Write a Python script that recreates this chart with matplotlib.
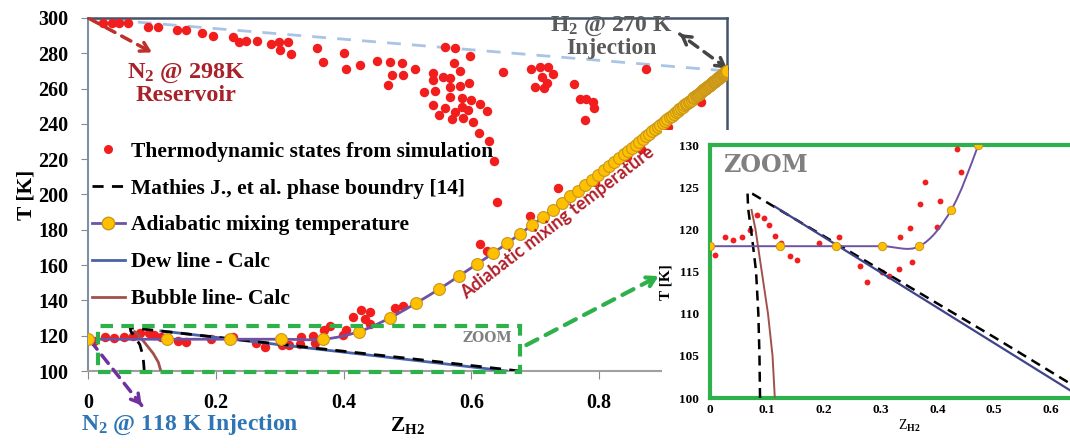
import numpy as np
import matplotlib
matplotlib.use('Agg')
import matplotlib.pyplot as plt
from matplotlib.path import Path
from matplotlib.patches import PathPatch, Rectangle
from matplotlib.lines import Line2D

plt.rcParams['font.family'] = ['Liberation Serif', 'DejaVu Serif']
plt.rcParams['font.weight'] = 'bold'
plt.rcParams['mathtext.fontset'] = 'custom'
plt.rcParams['mathtext.rm'] = 'Liberation Serif:bold'
plt.rcParams['mathtext.it'] = 'Liberation Serif:bold'
plt.rcParams['mathtext.bf'] = 'Liberation Serif:bold'

# --- thermodynamic states from simulation (z_H2, T) ---
sim_z = [0.024, 0.037, 0.049, 0.063, 0.094, 0.110, 0.139, 0.154, 0.178, 0.195,
         0.227, 0.237, 0.248, 0.264, 0.287, 0.299, 0.313, 0.300, 0.317,
         0.359, 0.367, 0.400, 0.403, 0.426, 0.453, 0.473, 0.491, 0.475, 0.493, 0.470, 0.512,
         0.540, 0.540, 0.556, 0.567, 0.559, 0.574, 0.572, 0.582, 0.598, 0.567, 0.582, 0.597,
         0.526, 0.543, 0.567, 0.585, 0.600, 0.613, 0.624, 0.540, 0.559, 0.574, 0.585, 0.595,
         0.550, 0.569, 0.587, 0.603, 0.612, 0.628, 0.636, 0.640,
         0.649, 0.694, 0.707, 0.720, 0.727, 0.710, 0.718, 0.700, 0.714, 0.761, 0.770, 0.780,
         0.790, 0.792, 0.778, 0.873, 0.960, 0.908, 0.866, 0.843, 0.736, 0.692, 0.613, 0.624, 0.793,
         0.009, 0.026, 0.041, 0.057, 0.070, 0.082, 0.095, 0.104, 0.114, 0.124, 0.141, 0.153,
         0.192, 0.227, 0.263, 0.277, 0.303, 0.315, 0.332, 0.334, 0.352, 0.355, 0.369, 0.379,
         0.399, 0.404, 0.434, 0.441, 0.415, 0.428, 0.441, 0.480, 0.493]
sim_T = [297.0, 297.0, 297.0, 297.0, 295.1, 294.7, 293.2, 293.2, 291.7, 289.8,
         289.1, 286.6, 287.0, 287.0, 285.1, 286.2, 286.2, 281.9, 279.6,
         283.2, 274.9, 280.0, 271.1, 273.4, 275.8, 275.3, 274.3, 267.7, 267.7, 262.0, 270.9,
         268.7, 264.9, 266.7, 265.8, 283.7, 282.8, 274.3, 270.2, 278.5, 261.1, 261.5, 263.0,
         257.9, 258.8, 255.1, 254.5, 253.5, 251.3, 247.5, 250.7, 248.8, 246.9, 249.8, 247.9,
         245.0, 242.8, 243.5, 240.9, 234.7, 230.3, 219.2, 195.6,
         269.6, 270.9, 272.4, 272.4, 268.3, 266.7, 263.0, 261.1, 260.5, 262.6, 254.1, 254.1,
         252.2, 248.8, 242.2, 270.9, 252.2, 238.1, 225.6, 221.0, 203.5, 187.8, 171.8, 168.2, 207.3,
         117.0, 119.1, 118.7, 119.1, 119.9, 121.7, 121.3, 120.5, 119.2, 118.4, 116.8, 116.4,
         118.4, 119.1, 115.7, 113.7, 115.0, 114.5, 115.3, 119.1, 120.1, 116.1, 123.0, 125.6,
         120.3, 123.4, 129.5, 126.8, 130.8, 134.6, 133.6, 135.5, 136.8]

# --- adiabatic mixing temperature ---
adi_z = [0.0, 0.1239, 0.2222, 0.3022, 0.3684, 0.4242, 0.4719, 0.5131, 0.5490, 0.5806,
         0.6087, 0.6337, 0.6563, 0.6766, 0.6950, 0.7119, 0.7273, 0.7414, 0.7545, 0.7666,
         0.7778, 0.7882, 0.7979, 0.8070, 0.8155, 0.8235, 0.8311, 0.8381, 0.8448, 0.8512,
         0.8571, 0.8628, 0.8682, 0.8733, 0.8782, 0.8829, 0.8873, 0.8916, 0.8956, 0.8995,
         0.9032, 0.9068, 0.9102, 0.9135, 0.9167, 0.9197, 0.9226, 0.9255, 0.9282, 0.9308,
         0.9333, 0.9358, 0.9381, 0.9404, 0.9426, 0.9448, 0.9469, 0.9489, 0.9508, 0.9527,
         0.9545, 0.9563, 0.9581, 0.9597, 0.9614, 0.9630, 0.9645, 0.9660, 0.9675, 0.9689,
         0.9703, 0.9717, 0.9730, 0.9743, 0.9755, 0.9767, 0.9779, 0.9791, 0.9803, 0.9814,
         0.9825, 0.9835, 0.9846, 0.9856, 0.9866, 0.9876, 0.9885, 0.9894, 0.9904, 0.9912,
         0.9921, 0.9930, 0.9938, 0.9947, 0.9955, 0.9963, 0.9970, 0.9978, 0.9985, 0.9993, 1.0]
adi_T = [118.0, 118.0, 118.0, 118.0, 118.0, 122.3, 130.0, 138.4, 146.3, 153.8,
         160.6, 166.7, 172.5, 177.8, 182.7, 187.0, 191.2, 195.2, 199.0, 202.2,
         205.4, 208.2, 211.0, 213.6, 216.1, 218.4, 220.6, 222.7, 224.6, 226.5,
         228.2, 229.9, 231.4, 232.9, 234.4, 235.7, 237.0, 238.3, 239.4, 240.6,
         241.7, 242.7, 243.7, 244.7, 245.6, 246.5, 247.3, 248.2, 249.0, 249.7,
         250.5, 251.2, 251.9, 252.5, 253.2, 253.8, 254.4, 255.0, 255.6, 256.1,
         256.6, 257.2, 257.7, 258.2, 258.6, 259.1, 259.6, 260.0, 260.4, 260.8,
         261.3, 261.7, 262.1, 262.4, 262.8, 263.1, 263.5, 263.8, 264.2, 264.5,
         264.8, 265.1, 265.4, 265.7, 266.0, 266.3, 266.6, 266.8, 267.1, 267.4,
         267.6, 267.9, 268.1, 268.4, 268.6, 268.8, 269.0, 269.3, 269.5, 269.7, 270.0]

# --- phase boundaries ---
mathies_z = [0.088, 0.087, 0.085, 0.081, 0.074, 0.067, 0.066, 0.075, 0.120, 0.300, 0.500, 0.675]
mathies_T = [100.0, 105.0, 110.0, 115.0, 119.0, 122.5, 124.4, 124.2, 122.4, 115.2, 107.2, 100.0]
dew_z = [0.114, 0.655]
dew_T = [122.7, 100.0]
bubble_z = [0.073, 0.080, 0.091, 0.102, 0.110, 0.114]
bubble_T = [122.3, 120.0, 115.0, 110.0, 105.0, 100.0]

# straight mixing line N2 reservoir -> H2 injection
mix_z = [0.0, 1.0]
mix_T = [300.0, 270.0]

RED = '#f21d1d'
PURPLE = '#6e52a3'
GOLD = '#ffc000'
DEW = '#4a62a8'
BUB = '#a0524a'
GREEN = '#2eb04b'


def smooth_line(axis, xs, ys, **kw):
    # Excel-like smoothed line through the points (Catmull-Rom as Bezier)
    pts = np.column_stack([xs, ys])
    P = np.vstack([pts[0], pts, pts[-1]])
    verts = [pts[0]]
    codes = [Path.MOVETO]
    for i in range(1, len(P) - 2):
        p0, p1, p2, p3 = P[i - 1], P[i], P[i + 1], P[i + 2]
        verts += [p1 + (p2 - p0) / 6, p2 - (p3 - p1) / 6, p2]
        codes += [Path.CURVE4] * 3
    axis.add_patch(PathPatch(Path(verts, codes), fill=False, **kw))


def dashed_arrow(axis, start, end, color, lw=2.5, both=False):
    axis.annotate('', xy=end, xytext=start, annotation_clip=False,
                  arrowprops=dict(arrowstyle='-', color=color, lw=lw, ls=(0, (3, 2.2)),
                                  shrinkA=0, shrinkB=0))
    s = np.array(start)
    e = np.array(end)
    heads = [(s, e)] + ([(e, s)] if both else [])
    for a, b in heads:
        axis.annotate('', xy=b, xytext=b - 0.08 * (b - a), annotation_clip=False,
                      arrowprops=dict(arrowstyle='->,head_length=0.6,head_width=0.35',
                                      color=color, lw=lw, shrinkA=0, shrinkB=0))


fig = plt.figure(figsize=(10.7, 4.48), dpi=100)

# ---------------- main chart ----------------
ax = fig.add_axes([88 / 1070, 1 - 371 / 448, 639 / 1070, 353 / 448])
ax.plot(mix_z, mix_T, color='#a9c4e4', lw=2, ls=(0, (5, 4)), zorder=1)
ax.plot(sim_z, sim_T, ls='none', marker='o', ms=6.8, color=RED, mec='none', zorder=3)
ax.plot(dew_z, dew_T, color=DEW, lw=2, zorder=4)
ax.plot(bubble_z, bubble_T, color=BUB, lw=2, zorder=4)
ax.plot(mathies_z, mathies_T, color='black', lw=2, ls=(0, (4, 3)), zorder=4)
smooth_line(ax, adi_z, adi_T, edgecolor=PURPLE, lw=2, zorder=5)
ax.plot(adi_z, adi_T, ls='none', marker='o', ms=8.5, mfc=GOLD, mec='#c8961e', mew=0.8, zorder=6)

ax.set_xlim(0, 1)
ax.set_ylim(100, 300)
ax.set_xticks([0, 0.2, 0.4, 0.6, 0.8, 1.0])
ax.set_xticklabels(['0', '0.2', '0.4', '0.6', '0.8', '1'])
ax.set_yticks(np.arange(100, 301, 20))
ax.tick_params(axis='both', labelsize=14.5, colors='#8a8a8a', labelcolor='black')
ax.tick_params(axis='x', length=6, pad=10)
ax.tick_params(axis='y', length=5, pad=9)
for lab in ax.get_xticklabels() + ax.get_yticklabels():
    lab.set_fontweight('bold')
ax.spines['top'].set_color('#44546a')
ax.spines['right'].set_color('#44546a')
ax.spines['top'].set_linewidth(1.8)
ax.spines['right'].set_linewidth(1.8)
ax.spines['left'].set_color('#7f8fa6')
ax.spines['bottom'].set_color('#a0a0a0')
ax.spines['left'].set_linewidth(1.5)
ax.spines['bottom'].set_linewidth(1.5)
ax.set_xlabel('$Z_{H2}$', fontsize=15.5, labelpad=1)
ax.set_ylabel('T [K]', fontsize=15.5, fontweight='bold', labelpad=1)

handles = [
    Line2D([], [], ls='none', marker='o', ms=6.5, color=RED, mec='none'),
    Line2D([], [], color='black', lw=2, ls=(0, (4, 3))),
    Line2D([], [], color=PURPLE, lw=2, marker='o', ms=9, mfc=GOLD, mec='#c8961e'),
    Line2D([], [], color=DEW, lw=2),
    Line2D([], [], color=BUB, lw=2),
]
labels = ['Thermodynamic states from simulation',
          'Mathies J., et al. phase boundry [14]',
          'Adiabatic mixing temperature',
          'Dew line - Calc',
          'Bubble line- Calc']
ax.legend(handles, labels, loc='upper left', bbox_to_anchor=(0.0, 0.662), frameon=False,
          prop={'size': 15.5, 'weight': 'bold'}, handlelength=1.5, handletextpad=0.3,
          labelspacing=0.78, borderpad=0.2, borderaxespad=0)

# zoom box and annotations
ax.add_patch(Rectangle((0.016, 99.6), 0.66, 25.9, fill=False, ec=GREEN, lw=3,
                       ls=(0, (3, 2)), clip_on=False, zorder=7))
ax.text(0.625, 118.6, 'ZOOM', fontsize=10, color='#808080', ha='center', va='center',
        family=['DejaVu Serif'], fontweight='bold', zorder=8)

dashed_arrow(ax, (0.003, 299.5), (0.10, 280.5), '#c0302a')
ax.text(0.154, 268.6, 'N$_2$ @ 298K', fontsize=17.5, color='#a8222a', ha='center', va='center')
ax.text(0.154, 256.3, 'Reservoir', fontsize=17.5, color='#a8222a', ha='center', va='center',
        fontweight='bold')

dashed_arrow(ax, (1.0, 271.4), (0.926, 290.9), '#454545', both=True)
ax.text(0.819, 295.2, 'H$_2$ @ 270 K', fontsize=17, color='#5a5a5a', ha='center', va='center')
ax.text(0.819, 282.7, 'Injection', fontsize=17, color='#5a5a5a', ha='center', va='center',
        fontweight='bold')

dashed_arrow(ax, (0.004, 117.0), (0.084, 80.5), '#7030a0')
ax.text(0.160, 69.4, 'N$_2$ @ 118 K Injection', fontsize=17, color='#2e75b6',
        ha='center', va='center', clip_on=False)

dashed_arrow(ax, (0.686, 114.7), (0.893, 153.8), GREEN, lw=3)

ax.text(0.735, 184.0, 'Adiabatic mixing temperature', fontsize=13, color='#b0202a',
        rotation=37.5, rotation_mode='anchor', ha='center', va='center',
        family=['Lato', 'DejaVu Sans'], fontweight='bold', zorder=8)

# white backing for the inset region
fig.add_artist(Rectangle((662 / 1070, 0), 1 - 662 / 1070, 1 - 130 / 448,
                         transform=fig.transFigure, facecolor='white', edgecolor='none',
                         zorder=1.5))

# ---------------- zoom inset ----------------
axi = fig.add_axes([710 / 1070, 1 - 398 / 448, 398 / 1070, 253 / 448], zorder=3)
axi.plot(sim_z, sim_T, ls='none', marker='o', ms=4.2, color=RED, mec='none', zorder=3)
axi.plot(mathies_z, mathies_T, color='black', lw=1.8, ls=(0, (4, 2.5)), zorder=4)
axi.plot(dew_z, dew_T, color='#40438a', lw=1.6, zorder=4)
axi.plot(bubble_z, bubble_T, color=BUB, lw=1.4, zorder=4)
smooth_line(axi, adi_z, adi_T, edgecolor=PURPLE, lw=1.4, zorder=5)
axi.plot(adi_z, adi_T, ls='none', marker='o', ms=6, mfc=GOLD, mec='#c8961e', mew=0.7, zorder=6)

axi.set_xlim(0, 0.7)
axi.set_ylim(100, 130)
axi.set_xticks(np.arange(0, 0.61, 0.1))
axi.set_xticklabels(['0', '0.1', '0.2', '0.3', '0.4', '0.5', '0.6'])
axi.set_yticks(np.arange(100, 131, 5))
axi.tick_params(axis='both', length=0, labelsize=9.5)
axi.tick_params(axis='x', pad=4)
axi.tick_params(axis='y', pad=8)
for lab in axi.get_xticklabels() + axi.get_yticklabels():
    lab.set_fontweight('bold')
for side in ['top', 'left', 'bottom']:
    axi.spines[side].set_color(GREEN)
    axi.spines[side].set_linewidth(3)
axi.spines['right'].set_visible(False)
axi.set_xlabel('Z$_{H2}$', fontsize=10, labelpad=2)
axi.set_ylabel('T [K]', fontsize=11, fontweight='bold')
axi.yaxis.set_label_coords(-0.095, 0.458)
axi.text(0.023, 127.6, 'ZOOM', fontsize=17, color='#808080', ha='left', va='center',
         family=['DejaVu Serif'], fontweight='bold')

fig.savefig('out.png', dpi=100)
